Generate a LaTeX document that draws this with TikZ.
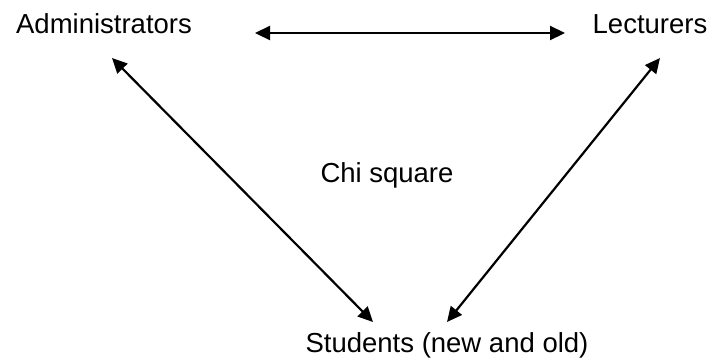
\documentclass[tikz,border=0pt]{standalone}
\usepackage{fontspec}
\setmainfont{Liberation Sans}
\usepackage{tikz}
\usetikzlibrary{arrows.meta}

\begin{document}
\begin{tikzpicture}[x=1pt,y=-1pt,
                lbl/.style={inner sep=0pt,anchor=base,font=\fontsize{27.5}{32}\selectfont},
                dbl/.style={line width=2.2pt,{Triangle[length=15pt,width=14pt]}-{Triangle[length=15pt,width=14pt]}}]
                \useasboundingbox (0,0) rectangle (710,360);
                % the three groups and the test
                \node[lbl] (admin) at (104,33) {Administrators};
                \node[lbl] (lect) at (650,33) {Lecturers};
                \node[lbl] (chi) at (387,182) {Chi square};
                \node[lbl] (stud) at (447,352) {Students (new and old)};
                % two-way links
                \draw[dbl] ([shift={(151,0)}]admin.base) -- ([shift={(-85,0)}]lect.base);
                \draw[dbl] ([shift={(8,25)}]admin.base) -- ([shift={(-74,-30)}]stud.base);
                \draw[dbl] ([shift={(10,25)}]lect.base) -- ([shift={(0,-30)}]stud.base);
            \end{tikzpicture}
\end{document}
